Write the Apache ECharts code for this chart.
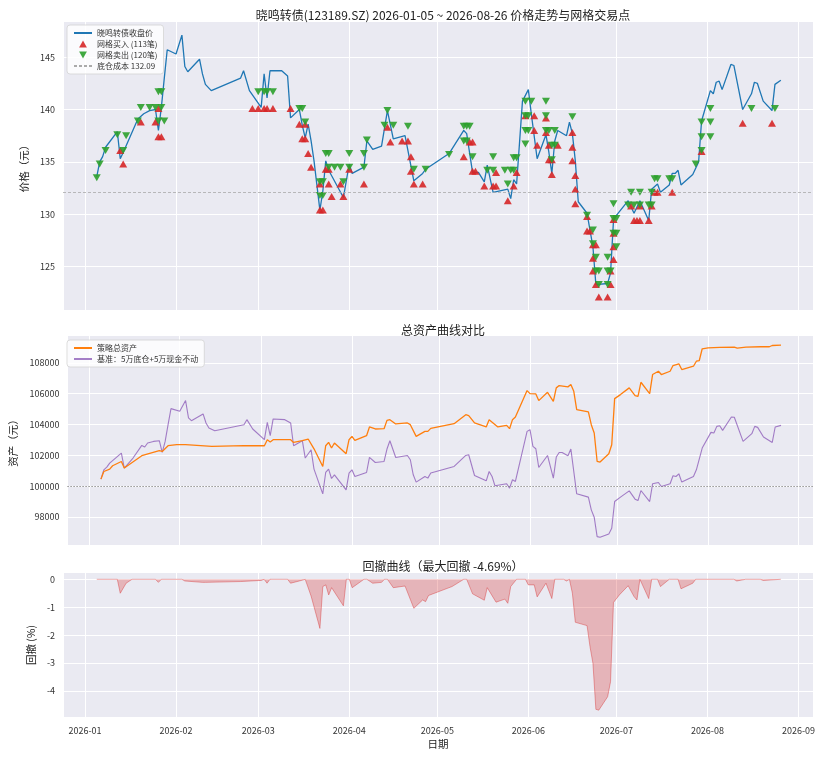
<!DOCTYPE html>
<html>
<head>
<meta charset="utf-8">
<title>晓鸣转债 网格交易</title>
<script src="https://cdn.jsdelivr.net/npm/echarts@6/dist/echarts.min.js"></script>
<style>
  html, body { margin: 0; padding: 0; background: #fff; }
  #chart { width: 819px; height: 757px; }
</style>
</head>
<body>
<div id="chart"></div>
<script>
////////////////////////////////////////////////////////////////
// data (dates are MM-DD in 2026)
const YEAR = '2026';

const priceDates = ['01-05','01-06','01-07','01-08','01-12','01-13','01-14','01-19','01-21','01-23',
  '01-25','01-26','01-27','01-28','01-29','02-01','02-03','02-04','02-05','02-09',
  '02-10','02-11','02-13','02-23','02-24','02-26','03-02','03-03','03-04','03-05',
  '03-09','03-11','03-12','03-15','03-16','03-17','03-18','03-19','03-20','03-22',
  '03-23','03-24','03-25','03-30','04-01','04-02','04-06','04-07','04-09','04-12',
  '04-14','04-16','04-20','04-23','04-26','04-27','05-05','05-10','05-11','05-13',
  '05-15','05-17','05-18','05-20','05-25','05-26','05-27','05-28','05-30','06-01',
  '06-02','06-04','06-07','06-08','06-09','06-10','06-11','06-14','06-15','06-16',
  '06-17','06-18','06-21','06-22','06-23','06-24','06-28','06-29','06-30','07-01',
  '07-05','07-06','07-07','07-09','07-12','07-13','07-15','07-16','07-19','07-20',
  '07-21','07-22','07-23','07-27','07-29','07-30','08-02','08-03','08-04','08-05',
  '08-06','08-09','08-10','08-13','08-16','08-17','08-18','08-20','08-23','08-24','08-26'];
const priceClose = [133.6,135.0,135.5,136.4,137.9,135.3,135.9,139.1,139.6,139.9,
  140.0,138.0,140.2,143.0,145.7,145.3,147.1,144.1,143.6,144.8,
  143.4,142.4,141.8,143.0,143.7,141.8,140.2,143.4,141.1,143.7,
  143.7,143.2,139.2,140.0,138.5,137.3,138.6,137.0,135.1,130.4,
  132.2,135.1,134.2,131.6,134.8,133.9,134.5,137.0,136.2,136.5,
  139.9,137.2,137.5,133.2,133.9,134.3,135.8,138.0,137.7,134.0,
  134.0,133.1,134.7,132.1,132.4,131.5,133.3,132.9,140.8,141.9,
  139.6,135.3,137.6,135.9,133.9,137.0,138.0,137.5,138.8,137.7,
  135.1,131.2,130.1,128.5,126.9,123.3,123.4,124.4,129.4,129.9,
  131.3,130.7,130.1,131.3,129.4,132.4,132.9,132.1,132.8,133.9,
  133.9,134.2,132.8,133.8,135.0,138.9,141.8,141.5,142.6,142.7,
  141.9,144.3,144.2,140.0,141.5,142.6,142.5,140.8,139.9,142.4,142.8];

const baseCost = 132.09;

const buyDates = ['01-13','01-14','01-20','01-25','01-26','01-26','01-27','02-27','03-01','03-03',
  '03-04','03-06','03-12','03-15','03-17','03-17','03-16','03-18','03-19','03-22',
  '03-23','03-22','03-25','03-26','03-29','03-30','03-24','03-25','04-01','04-06',
  '04-14','04-15','04-19','04-21','04-22','04-22','04-23','04-26','05-10','05-12',
  '05-13','05-13','05-14','05-17','05-20','05-21','05-21','05-25','05-27','05-28',
  '05-31','06-03','06-03','06-04','06-07','06-07','06-08','06-11','06-08','06-09',
  '06-09','06-16','06-16','06-16','06-17','06-17','06-17','06-21','06-21','06-22',
  '06-23','06-24','06-23','06-23','06-24','06-25','06-28','06-29','06-29','06-30',
  '06-30','06-30','06-30','07-06','07-07','07-08','07-09','07-09','07-12','07-13',
  '07-14','07-15','07-20','07-30','08-13','08-23'];
const buyPrices = [136.1,134.8,138.8,138.8,140.1,137.4,137.4,140.1,140.1,140.1,
  140.1,140.1,140.1,138.6,138.6,137.2,137.2,135.8,134.5,130.4,
  130.4,132.9,132.9,131.7,132.9,131.7,134.3,134.3,134.3,132.9,
  138.3,136.9,137.0,137.0,135.5,134.1,132.9,132.9,135.5,136.9,
  136.9,134.1,134.1,132.7,132.7,132.7,134.0,131.3,132.7,134.0,
  139.4,139.4,138.0,136.6,139.2,137.8,136.6,136.6,135.2,135.2,
  133.8,137.8,136.4,135.1,133.7,132.4,131.0,129.8,128.4,128.4,
  127.1,127.1,125.8,124.6,123.3,122.1,122.1,123.3,124.6,125.7,
  126.9,128.2,129.5,130.8,129.4,129.4,129.4,130.8,129.4,130.8,
  132.1,132.1,132.1,136.0,138.7,138.7];

const sellDates = ['01-05','01-06','01-08','01-12','01-14','01-15','01-19','01-20','01-23','01-25',
  '01-27','01-26','01-27','01-26','01-28','03-01','03-03','03-04','03-06','03-15',
  '03-16','03-17','03-22','03-23','03-22','03-23','03-24','03-25','03-25','03-27',
  '03-29','03-30','04-01','04-01','04-06','04-06','04-07','04-14','04-13','04-16',
  '04-21','04-23','04-27','05-05','05-10','05-11','05-12','05-10','05-11','05-13',
  '05-20','05-18','05-20','05-24','05-26','05-27','05-25','05-27','05-28','05-31',
  '06-02','05-31','06-01','05-31','06-01','05-31','06-07','06-07','06-07','06-08',
  '06-10','06-09','06-10','06-09','06-16','06-21','06-23','06-23','06-24','06-24',
  '06-25','06-25','06-28','06-28','06-29','06-28','06-30','06-30','07-01','06-30',
  '07-01','07-01','07-05','07-06','07-07','07-09','07-09','07-12','07-13','07-13',
  '07-14','07-15','07-19','07-20','07-28','07-30','07-30','07-30','08-02','08-02',
  '08-02','08-16','08-24'];
const sellPrices = [133.5,134.8,136.1,137.6,136.1,137.5,138.9,140.2,140.2,140.2,
  140.2,141.7,141.7,138.9,138.9,141.7,141.7,141.7,141.7,140.1,
  140.1,138.8,133.1,133.1,131.8,131.8,135.8,135.8,134.5,134.5,
  134.5,133.1,135.8,134.5,135.8,134.5,137.1,139.9,138.5,138.5,
  138.4,134.3,134.3,135.7,138.4,138.4,138.4,137.0,137.0,135.5,
  135.5,134.2,134.2,134.2,134.2,134.2,132.9,135.4,135.4,140.8,
  140.8,139.4,139.4,138.0,138.0,136.7,140.8,139.4,138.0,138.0,
  138.0,136.6,136.6,135.2,139.3,129.9,128.5,127.2,125.9,124.6,
  124.6,123.3,125.9,124.6,124.6,123.3,131.0,129.6,129.6,128.2,
  128.2,126.9,130.9,132.1,130.9,132.1,130.9,130.9,130.9,132.1,
  133.4,133.4,133.4,133.4,134.8,138.8,137.4,136.1,140.1,138.8,
  137.4,140.1,140.1];

const stratDates = ['01-05','01-06','01-08','01-09','01-12','01-13','01-19','01-22','01-25','01-26',
  '01-28','01-31','02-03','02-12','02-23','03-02','03-03','03-04','03-05','03-11',
  '03-12','03-15','03-17','03-19','03-22','03-23','03-24','03-25','03-26','03-30',
  '03-31','04-01','04-02','04-06','04-07','04-09','04-12','04-13','04-14','04-16',
  '04-20','04-21','04-23','04-26','04-27','04-28','05-06','05-10','05-11','05-13',
  '05-17','05-18','05-21','05-24','05-25','05-26','05-27','05-31','06-01','06-03',
  '06-04','06-07','06-09','06-10','06-11','06-14','06-15','06-16','06-17','06-21',
  '06-22','06-23','06-24','06-25','06-28','06-29','06-30','07-02','07-05','07-07',
  '07-08','07-09','07-12','07-13','07-15','07-16','07-19','07-20','07-22','07-23',
  '07-27','07-28','07-29','07-30','08-01','08-05','08-10','08-11','08-14','08-19',
  '08-22','08-23','08-26'];
const stratValues = [100455,100950,101106,101320,101600,101171,101971,102146,102296,102250,
  102621,102686,102686,102576,102621,102621,103011,102862,103011,103011,
  102836,102946,103057,102420,101275,102621,102836,102472,102797,102101,
  103011,103226,102966,103272,103837,103707,103727,104267,104312,104032,
  104098,103987,103226,103551,103551,103746,104052,104637,104572,104098,
  103837,104312,103837,103941,103727,104312,104488,106198,106003,105984,
  105548,106088,105502,106374,106524,106439,106589,106153,104962,104813,
  103987,103447,101600,101561,102101,102686,105678,105938,106374,105873,
  105828,106738,106003,107239,107454,107239,107454,107824,107935,107564,
  107779,108104,108150,108911,108976,108996,109015,108950,109015,109041,
  109041,109125,109145];

const benchDates = ['01-05','01-06','01-07','01-08','01-12','01-13','01-16','01-19','01-20','01-21',
  '01-23','01-25','01-26','01-27','01-28','01-29','02-01','02-03','02-04','02-05',
  '02-09','02-10','02-11','02-13','02-23','02-24','02-26','03-02','03-03','03-04',
  '03-05','03-09','03-11','03-12','03-15','03-16','03-18','03-19','03-22','03-23',
  '03-24','03-25','03-26','03-30','03-31','04-01','04-02','04-06','04-07','04-09',
  '04-12','04-13','04-14','04-16','04-20','04-21','04-22','04-23','04-26','04-27',
  '04-28','05-06','05-10','05-11','05-13','05-17','05-18','05-19','05-20','05-24',
  '05-25','05-26','05-27','05-31','06-01','06-02','06-03','06-04','06-07','06-09',
  '06-10','06-11','06-12','06-14','06-15','06-17','06-21','06-22','06-23','06-24',
  '06-25','06-28','06-29','06-30','07-02','07-05','07-07','07-08','07-09','07-12',
  '07-13','07-15','07-16','07-19','07-20','07-21','07-22','07-23','07-27','07-28',
  '07-30','08-02','08-03','08-04','08-05','08-06','08-09','08-10','08-13','08-16',
  '08-17','08-18','08-20','08-23','08-24','08-26'];
const benchValues = [100455,101060,101236,101496,102146,101171,101821,102641,102536,102797,
  102901,102946,102186,102901,103987,105028,104852,105548,104423,104247,
  104683,104098,103772,103597,103987,104312,103707,103011,104137,103272,
  104358,104312,104098,102621,102946,101821,102361,101106,99499,100885,
  101106,100494,100735,99759,100846,101060,100624,100885,101860,101535,
  101600,102406,102946,101860,101990,101711,100735,100260,100624,100520,
  100846,101275,101990,102036,100689,100345,100950,100624,100020,100150,
  99870,100410,100300,103551,103662,102576,102426,101210,101990,100520,
  101886,102186,102186,101971,102406,99499,99285,98459,97984,96722,
  96683,96898,97268,99000,99285,99694,99154,99063,99714,99000,
  100150,100234,99974,100150,100670,100624,100800,100260,100624,101060,
  102472,103486,103447,103876,103922,103616,104488,104470,102901,103402,
  103876,103811,103187,102836,103837,103941];

const ddDates = ['01-05','01-12','01-13','01-15','01-17','01-25','01-26','01-27','02-03','02-04',
  '02-10','02-11','02-23','03-02','03-03','03-04','03-05','03-11','03-12','03-15',
  '03-17','03-19','03-22','03-23','03-24','03-25','03-26','03-30','03-31','04-01',
  '04-02','04-06','04-07','04-09','04-12','04-13','04-14','04-16','04-20','04-23',
  '04-26','04-27','04-28','05-06','05-10','05-11','05-13','05-17','05-18','05-21',
  '05-24','05-25','05-26','05-28','05-31','06-01','06-03','06-04','06-07','06-09',
  '06-10','06-13','06-14','06-15','06-16','06-17','06-21','06-22','06-23','06-24',
  '06-25','06-28','06-29','06-30','07-02','07-05','07-07','07-08','07-09','07-12',
  '07-13','07-15','07-16','07-19','07-22','07-23','07-27','07-28','08-10','08-11',
  '08-14','08-19','08-20','08-26'];
const ddValues = [0,0,-0.50,-0.14,0,0,-0.11,0,0,-0.06,
  -0.11,-0.11,-0.08,-0.04,0,-0.14,0,0,-0.14,-0.06,
  0,-0.60,-1.76,-0.26,-0.20,-0.56,-0.30,-0.95,0,0,
  -0.30,0,0,-0.14,-0.11,0,0,-0.30,-0.24,-1.04,
  -0.74,-0.80,-0.58,-0.26,0,0,-0.52,-0.75,-0.30,-0.82,
  -0.71,-0.86,-0.26,0,0,-0.20,-0.20,-0.63,-0.14,-0.69,
  0,0,-0.06,0,-0.50,-1.54,-1.66,-2.41,-3.01,-4.66,
  -4.69,-4.21,-3.67,-0.83,-0.56,-0.23,-0.62,-0.74,0,-0.69,
  0,0,-0.26,0,0,-0.34,-0.14,0,0,-0.06,
  0,0,-0.04,0];

const priceTicks = [125, 130, 135, 140, 145];
const assetTicks = [98000, 100000, 102000, 104000, 106000, 108000];
const ddTicks = [-4, -3, -2, -1, 0];

////////////////////////////////////////////////////////////////
// helpers
const withYear = (md) => YEAR + '-' + md;
const pairs = (dates, vals) => dates.map((d, i) => [withYear(d), vals[i]]);
const pad2 = (n) => (n < 10 ? '0' + n : '' + n);
const fmtMonth = (v) => {
  const d = new Date(v);
  return d.getFullYear() + '-' + pad2(d.getMonth() + 1);
};
const plainNum = (v) => String(v);

const FONT = '"Noto Sans CJK SC", "Noto Sans", sans-serif';
const BG = '#eaeaf2';
const GRID_LINE = { lineStyle: { color: '#ffffff', width: 1 } };
const DAY = 24 * 3600 * 1000;

function xAxisOf(idx, showLabel) {
  return {
    type: 'time',
    gridIndex: idx,
    min: '2025-12-24 12:00',
    max: '2026-09-05 23:00',
    minInterval: 28 * DAY,
    maxInterval: 31 * DAY,
    axisLine: { show: false },
    axisTick: { show: false },
    axisLabel: {
      show: showLabel, formatter: fmtMonth,
      fontSize: 9, color: '#333', margin: 9, hideOverlap: false,
      showMinLabel: false, showMaxLabel: false
    },
    splitLine: Object.assign({ show: true }, GRID_LINE),
    name: showLabel ? '日期' : '',
    nameLocation: 'middle',
    nameGap: 22,
    nameTextStyle: { fontSize: 10.5, color: '#222' }
  };
}

function yAxisOf(idx, min, max, ticks, name, gap) {
  return {
    type: 'value',
    gridIndex: idx,
    min: min,
    max: max,
    name: name,
    nameLocation: 'middle',
    nameGap: gap,
    nameRotate: 90,
    nameTextStyle: { fontSize: 10.5, color: '#222' },
    axisLine: { show: false },
    axisTick: { show: false, customValues: ticks },
    axisLabel: { customValues: ticks, formatter: plainNum, fontSize: 9, color: '#333', margin: 8 },
    splitLine: Object.assign({ show: true }, GRID_LINE)
  };
}

// legend entries for plain lines: hide the symbol, keep the line
const lineEntry = (name) => ({ name: name, itemStyle: { opacity: 0 } });

const titleStyle = { fontSize: 12, fontWeight: 'normal', color: '#222' };
const legendBox = {
  orient: 'vertical',
  left: 67,
  itemWidth: 18,
  itemHeight: 7,
  itemGap: 3,
  padding: [4, 6],
  textStyle: { fontSize: 8, color: '#333' },
  backgroundColor: 'rgba(255,255,255,0.8)',
  borderColor: '#d3d3d3',
  borderWidth: 0.8,
  borderRadius: 3
};

////////////////////////////////////////////////////////////////
// chart
const chart = echarts.init(document.getElementById('chart'));

const nameBuy = '网格买入 (113笔)';
const nameSell = '网格卖出 (120笔)';
const nameCost = '底仓成本 ' + baseCost.toFixed(2);

const option = {
  animation: false,
  textStyle: { fontFamily: FONT },
  title: [
    { text: '晓鸣转债(123189.SZ) 2026-01-05 ~ 2026-08-26 价格走势与网格交易点', left: 438, top: 4, textAlign: 'center', textStyle: titleStyle },
    { text: '总资产曲线对比', left: 438, top: 319, textAlign: 'center', textStyle: titleStyle },
    { text: '回撤曲线（最大回撤 -4.69%）', left: 438, top: 555, textAlign: 'center', textStyle: titleStyle }
  ],
  legend: [
    Object.assign({}, legendBox, {
      top: 25,
      data: [lineEntry('晓鸣转债收盘价'), nameBuy, nameSell, lineEntry(nameCost)]
    }),
    Object.assign({}, legendBox, {
      top: 340,
      data: [lineEntry('策略总资产'), lineEntry('基准：5万底仓+5万现金不动')]
    })
  ],
  grid: [
    { left: 63, right: 6, top: 22, height: 288, show: true, backgroundColor: BG, borderWidth: 0 },
    { left: 63, right: 6, top: 336, height: 209, show: true, backgroundColor: BG, borderWidth: 0 },
    { left: 63, right: 6, top: 573, height: 144, show: true, backgroundColor: BG, borderWidth: 0 }
  ],
  xAxis: [xAxisOf(0, false), xAxisOf(1, false), xAxisOf(2, true)],
  yAxis: [
    yAxisOf(0, 120.87, 148.35, priceTicks, '价格（元）', 29),
    yAxisOf(1, 96180, 109740, assetTicks, '资产（元）', 45),
    yAxisOf(2, -4.935, 0.226, ddTicks, '回撤 (%)', 22)
  ],
  series: [
    {
      name: '晓鸣转债收盘价',
      type: 'line',
      xAxisIndex: 0, yAxisIndex: 0,
      data: pairs(priceDates, priceClose),
      symbol: 'none',
      lineStyle: { color: '#1f77b4', width: 1.3 },
      itemStyle: { color: '#1f77b4' },
      z: 2
    },
    {
      name: nameCost,
      type: 'line',
      xAxisIndex: 0, yAxisIndex: 0,
      data: [],
      symbol: 'none',
      lineStyle: { color: '#aaaaaa', width: 0.8, type: [3, 2] },
      itemStyle: { color: '#aaaaaa' },
      markLine: {
        silent: true,
        symbol: 'none',
        label: { show: false },
        lineStyle: { color: '#aaaaaa', width: 0.8, type: [3, 2] },
        data: [{ yAxis: baseCost }]
      }
    },
    {
      name: nameBuy,
      type: 'scatter',
      xAxisIndex: 0, yAxisIndex: 0,
      data: pairs(buyDates, buyPrices),
      symbol: 'path://M5,0L10,9L0,9Z',
      symbolSize: [8, 7],
      itemStyle: { color: '#d62728', opacity: 0.9 },
      z: 4
    },
    {
      name: nameSell,
      type: 'scatter',
      xAxisIndex: 0, yAxisIndex: 0,
      data: pairs(sellDates, sellPrices),
      symbol: 'path://M0,0L10,0L5,9Z',
      symbolSize: [8, 7],
      itemStyle: { color: '#2ca02c', opacity: 0.9 },
      z: 4
    },
    {
      name: '策略总资产',
      type: 'line',
      xAxisIndex: 1, yAxisIndex: 1,
      data: pairs(stratDates, stratValues),
      symbol: 'none',
      lineStyle: { color: '#ff7f0e', width: 1.3 },
      itemStyle: { color: '#ff7f0e' },
      z: 3
    },
    {
      name: '基准：5万底仓+5万现金不动',
      type: 'line',
      xAxisIndex: 1, yAxisIndex: 1,
      data: pairs(benchDates, benchValues),
      symbol: 'none',
      lineStyle: { color: '#9467bd', width: 1.1, opacity: 0.85 },
      itemStyle: { color: '#9467bd' },
      markLine: {
        silent: true,
        symbol: 'none',
        label: { show: false },
        lineStyle: { color: '#777777', width: 0.8, type: [1.5, 1.5] },
        data: [{ yAxis: 100000 }]
      },
      z: 2
    },
    {
      name: '回撤',
      type: 'line',
      xAxisIndex: 2, yAxisIndex: 2,
      data: pairs(ddDates, ddValues),
      symbol: 'none',
      lineStyle: { color: 'rgba(214,39,40,0.5)', width: 0.8 },
      areaStyle: { color: 'rgba(214,39,40,0.4)' },
      z: 2
    }
  ]
};

option && chart.setOption(option);
</script>
</body>
</html>
